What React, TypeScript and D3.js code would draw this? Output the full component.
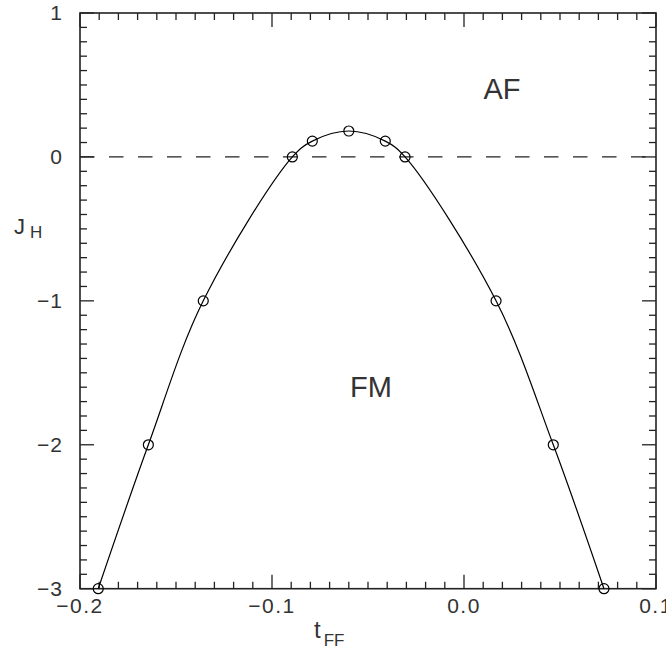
import React from "react";
import * as d3 from "d3";

// J_H vs t_FF phase boundary
const tFF = [-0.1905, -0.1644, -0.1358, -0.0894, -0.079, -0.06, -0.041, -0.0307, 0.0167, 0.0465, 0.0729];
const jH = [-3, -2, -1, 0, 0.11, 0.18, 0.11, 0, -1, -2, -3];
const xTickLabels = ["−0.2", "−0.1", "0.0", "0.1"];
const xMajor = [-0.2, -0.1, 0.0, 0.1];
const yTickLabels = ["−3", "−2", "−1", "0", "1"];
const yMajor = [-3, -2, -1, 0, 1];

const W = 666;
const H = 659;
const left = 80, right = 656, top = 13, bottom = 588.7;
const font = "'Liberation Sans', Arial, Helvetica, sans-serif";

const App = () => {
  const x = d3.scaleLinear().domain([-0.2, 0.1]).range([left, right]);
  const y = d3.scaleLinear().domain([-3, 1]).range([bottom, top]);

  const pts = tFF.map((t, i) => [t, jH[i]] as [number, number]);
  const path = d3
    .line<[number, number]>()
    .x(d => x(d[0]))
    .y(d => y(d[1]))
    .curve(d3.curveCatmullRom.alpha(0.5))(pts) as string;

  const xMinor = d3.range(0, 31).map(i => -0.2 + i * 0.01);
  const yMinor = d3.range(0, 41).map(i => -3 + i * 0.1);
  const isMajorX = (v: number) => xMajor.some(m => Math.abs(m - v) < 1e-6);
  const isMajorY = (v: number) => yMajor.some(m => Math.abs(m - v) < 1e-6);

  const tk = { stroke: "#222", strokeWidth: 1.3 };

  return (
    <svg
      width={W}
      height={H}
      style={{ position: "fixed", left: 0, top: 0, background: "#fff" }}
    >
      {/* frame */}
      <rect x={left} y={top} width={right - left} height={bottom - top} fill="none" stroke="#222" strokeWidth={1.6} />

      {/* x ticks bottom and top */}
      {xMinor.map((v, i) => {
        const len = isMajorX(v) ? 14 : 7;
        return (
          <g key={"xt" + i}>
            <line x1={x(v)} x2={x(v)} y1={bottom} y2={bottom - len} {...tk} />
            <line x1={x(v)} x2={x(v)} y1={top} y2={top + len} {...tk} />
          </g>
        );
      })}
      {/* y ticks left and right */}
      {yMinor.map((v, i) => {
        const len = isMajorY(v) ? 14 : 7;
        return (
          <g key={"yt" + i}>
            <line x1={left} x2={left + len} y1={y(v)} y2={y(v)} {...tk} />
            <line x1={right} x2={right - len} y1={y(v)} y2={y(v)} {...tk} />
          </g>
        );
      })}

      {/* tick labels */}
      {xMajor.map((v, i) => (
        <text key={"xl" + i} x={x(v)} y={613} textAnchor="middle" fontFamily={font} fontSize={21} letterSpacing={1.5} fill="#333">
          {xTickLabels[i]}
        </text>
      ))}
      {yMajor.map((v, i) => (
        <text key={"yl" + i} x={63} y={y(v) + 7} textAnchor="end" fontFamily={font} fontSize={21} letterSpacing={1} fill="#333">
          {yTickLabels[i]}
        </text>
      ))}

      {/* zero line */}
      <line x1={left} x2={right} y1={y(0)} y2={y(0)} stroke="#222" strokeWidth={1.3} strokeDasharray="14.5,14.5" />

      {/* boundary curve */}
      <path d={path} fill="none" stroke="#000" strokeWidth={1.2} />
      {pts.map((d, i) => (
        <circle key={"c" + i} cx={x(d[0])} cy={y(d[1])} r={5} fill="none" stroke="#000" strokeWidth={1.2} />
      ))}

      {/* region labels */}
      <text x={502} y={99} textAnchor="middle" fontFamily={font} fontSize={29} fill="#333">AF</text>
      <text x={371} y={397} textAnchor="middle" fontFamily={font} fontSize={29} fill="#333">FM</text>

      {/* axis titles */}
      <text x={14} y={234} fontFamily={font} fontSize={22} fill="#333">
        J<tspan fontSize={17} dx={5} dy={4}>H</tspan>
      </text>
      <text x={314} y={638} fontFamily={font} fontSize={24} fill="#333">
        t<tspan fontSize={17} dx={3} dy={8}>FF</tspan>
      </text>
    </svg>
  );
};

export default App;
